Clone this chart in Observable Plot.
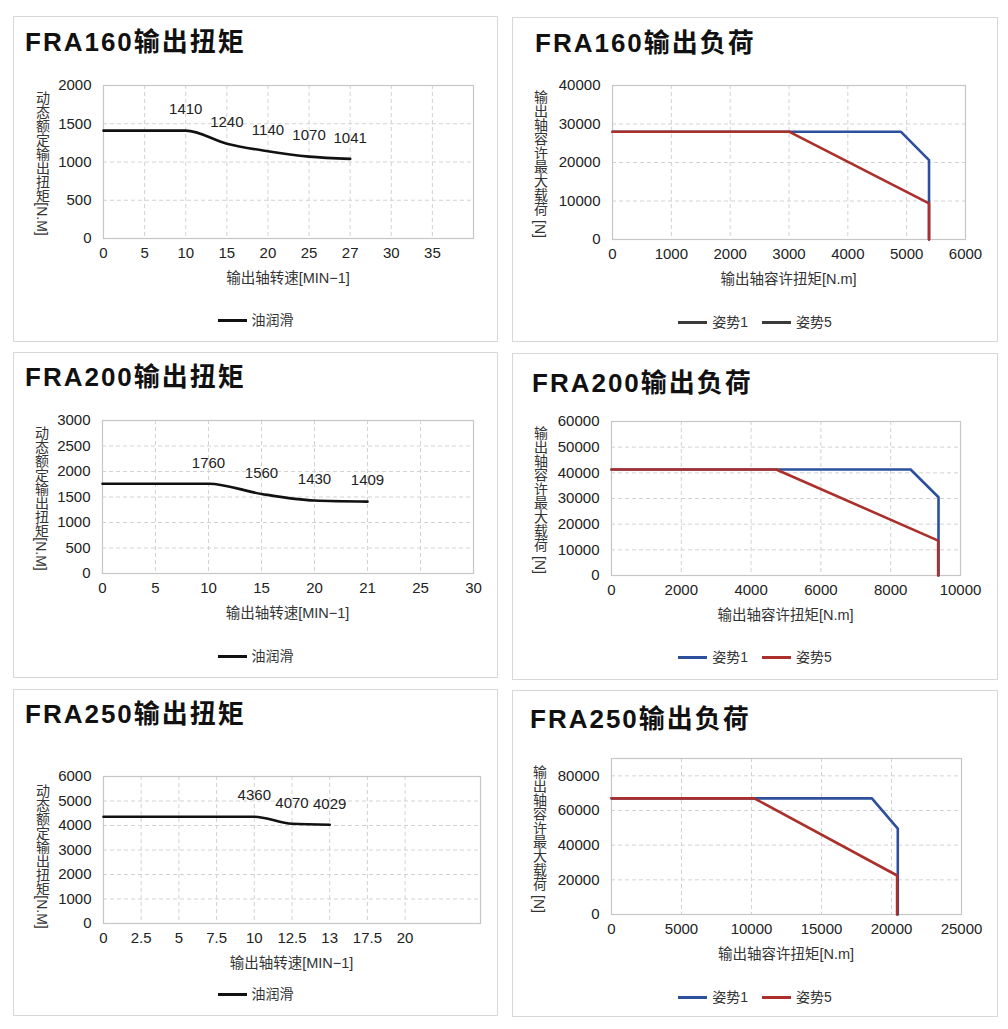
<!DOCTYPE html>
<html><head><meta charset="utf-8">
<script src="https://cdn.jsdelivr.net/npm/d3@7"></script>
<script src="https://cdn.jsdelivr.net/npm/@observablehq/plot@0.6"></script>
<style>
body{margin:0;background:#fff;}
#root{position:relative;width:1008px;height:1029px;background:#fff;font-family:"Liberation Sans","Noto Sans CJK SC",sans-serif;color:#222;overflow:hidden}
.panel{position:absolute;border:1px solid #d8d8d8;box-sizing:border-box;}
.abs{position:absolute;white-space:nowrap}
.title{font-size:26px;font-weight:bold;letter-spacing:2px;color:#111;line-height:1;transform:translateY(-50%)}
.ylab{writing-mode:vertical-rl;font-size:14px;line-height:1;color:#333;transform:translate(-50%,-50%)}
.xlab{font-size:14.5px;color:#333;line-height:1;transform:translate(-50%,-50%)}
.legend{display:flex;align-items:center;justify-content:center;font-size:14px;color:#333;line-height:1;transform:translateY(-50%)}
.sw{width:29px;height:0;margin-right:5px}
.item{display:flex;align-items:center;margin:0 7px}
svg{position:absolute;overflow:visible}
</style></head><body><div id="root"></div>
<script>
// ---------------- DATA ----------------
// Output torque charts (category axes)
const speed160 = ["0","5","10","15","20","25","27","30","35"];
const torque160 = [1410,1410,1410,1240,1140,1070,1041];
const labelIdx160 = [2,3,4,5,6];
const yTicks160 = [0,500,1000,1500,2000];

const speed200 = ["0","5","10","15","20","21","25","30"];
const torque200 = [1760,1760,1760,1560,1430,1409];
const labelIdx200 = [2,3,4,5];
const yTicks200 = [0,500,1000,1500,2000,2500,3000];

const speed250 = ["0","2.5","5","7.5","10","12.5","13","17.5","20"];
const torque250 = [4360,4360,4360,4360,4360,4070,4029];
const labelIdx250 = [4,5,6];
const yTicks250 = [0,1000,2000,3000,4000,5000,6000];

// Output load charts
const xTicksL160 = [0,1000,2000,3000,4000,5000,6000];
const yTicksL160 = [0,10000,20000,30000,40000];
const pose1_160_x = [0,4900,5380,5380];
const pose1_160_y = [28000,28000,20600,0];
const pose5_160_x = [0,3000,5380,5380];
const pose5_160_y = [28000,28000,9400,0];

const xTicksL200 = [0,2000,4000,6000,8000,10000];
const yTicksL200 = [0,10000,20000,30000,40000,50000,60000];
const pose1_200_x = [0,8570,9370,9370];
const pose1_200_y = [41300,41300,30500,0];
const pose5_200_x = [0,4720,9360,9360];
const pose5_200_y = [41300,41300,13600,0];

const xTicksL250 = [0,5000,10000,15000,20000,25000];
const yTicksL250 = [0,20000,40000,60000,80000];
const yMaxL250 = 90000;
const pose1_250_x = [0,18600,20450,20450];
const pose1_250_y = [67000,67000,49500,0];
const pose5_250_x = [0,10200,20400,20400];
const pose5_250_y = [67000,67000,22500,0];

const titles = ["FRA160输出扭矩","FRA160输出负荷","FRA200输出扭矩","FRA200输出负荷","FRA250输出扭矩","FRA250输出负荷"];
const yLabTorque = "动态额定输出扭矩[N.M]";
const yLabLoad = "输出轴容许最大载荷 [N]";
const xLabTorque = "输出轴转速[MIN−1]";
const xLabLoad = "输出轴容许扭矩[N.m]";
const legendTorque = ["油润滑"];
const legendLoad = ["姿势1","姿势5"];

// ---------------- LAYOUT ----------------
const BLUE = "#2c4f9e", RED = "#ab2f2a", BLACK = "#111";
const panels = [
  {x0:13, y0:16, x1:498, y1:342, frame:[103,85,473,238], title:[25,42], ylab:[42,163], legend:320},
  {x0:512,y0:17, x1:998, y1:342, frame:[612,85,965,239], title:[535,43], ylab:[540,164], legend:322},
  {x0:13, y0:352,x1:498, y1:678, frame:[102,420,473,573], title:[25,377], ylab:[41,498], legend:656},
  {x0:512,y0:353,x1:998, y1:680, frame:[611,421,960,575], title:[532,383], ylab:[540,500], legend:657},
  {x0:13, y0:689,x1:498, y1:1016,frame:[103,776,480,923], title:[25,714], ylab:[42,856], legend:994},
  {x0:512,y0:690,x1:998, y1:1017,frame:[611,758,961,914], title:[530,719], ylab:[539,839], legend:997},
];

const root = document.getElementById("root");
const font = '"Liberation Sans","Noto Sans CJK SC",sans-serif';
const gridStyle = {stroke:"#d2d2d2", strokeDasharray:"4,3", strokeWidth:1};

function dims(p){
  const [l,t,r,b] = p.frame;
  return {width:p.x1-p.x0, height:p.y1-p.y0, marginLeft:l-p.x0, marginTop:t-p.y0, marginRight:p.x1-r, marginBottom:p.y1-b,
    style:{fontFamily:font, fontSize:"15px", color:"#222", background:"transparent", overflow:"visible"}};
}

function torquePlot(p, cats, vals, labelIdx, yTicks, xMax){
  const data = vals.map((v,i)=>({i, v}));
  const labs = labelIdx.map(i=>({i, v: vals[i]}));
  const catIdx = cats.map((c,i)=>i);
  return Plot.plot({
    ...dims(p),
    x:{type:"linear", domain:[0,xMax], ticks:catIdx, tickFormat:i=>cats[i], tickSize:0, tickPadding:9, label:null},
    y:{domain:[0,yTicks[yTicks.length-1]], ticks:yTicks, tickSize:0, tickPadding:12, label:null, tickFormat:d=>String(d)},
    marks:[
      Plot.ruleX(catIdx.slice(1), gridStyle),
      Plot.ruleY(yTicks.slice(1), gridStyle),
      Plot.frame({stroke:"#c6c6c6", strokeWidth:1.2}),
      Plot.line(data, {x:"i", y:"v", curve:"monotone-x", stroke:BLACK, strokeWidth:2.6}),
      Plot.text(labs, {x:"i", y:"v", text:d=>String(d.v), dy:-21, fontSize:15, fill:"#222"})
    ]
  });
}

function loadPlot(p, xTicks, yTicks, yMax, s1x, s1y, s5x, s5y){
  const s1 = s1x.map((x,i)=>({x, y:s1y[i]}));
  const s5 = s5x.map((x,i)=>({x, y:s5y[i]}));
  return Plot.plot({
    ...dims(p),
    x:{domain:[0,xTicks[xTicks.length-1]], ticks:xTicks, tickSize:0, tickPadding:9, label:null, tickFormat:d=>String(d)},
    y:{domain:[0,yMax], ticks:yTicks, tickSize:0, tickPadding:12, label:null, tickFormat:d=>String(d)},
    marks:[
      Plot.ruleX(xTicks.slice(1), gridStyle),
      Plot.ruleY(yTicks.slice(1), gridStyle),
      Plot.frame({stroke:"#c6c6c6", strokeWidth:1.2}),
      Plot.line(s1, {x:"x", y:"y", stroke:BLUE, strokeWidth:2.6}),
      Plot.line(s5, {x:"x", y:"y", stroke:RED, strokeWidth:2.6})
    ]
  });
}

function addDiv(cls, text, css){
  const d = document.createElement("div");
  d.className = "abs " + cls;
  if (text != null) d.textContent = text;
  Object.assign(d.style, css);
  root.appendChild(d);
  return d;
}

function decorate(k, p, svg, ylab, xlab, legendNames, legendColors){
  addDiv("panel", null, {left:p.x0+"px", top:p.y0+"px", width:(p.x1-p.x0)+"px", height:(p.y1-p.y0)+"px"});
  svg.style.left = p.x0+"px"; svg.style.top = p.y0+"px";
  root.appendChild(svg);
  addDiv("title", titles[k], {left:p.title[0]+"px", top:p.title[1]+"px"});
  addDiv("ylab", ylab, {left:p.ylab[0]+"px", top:p.ylab[1]+"px"});
  const [l,t,r,b] = p.frame;
  addDiv("xlab", xlab, {left:((l+r)/2)+"px", top:(b+40)+"px"});
  const lg = addDiv("legend", null, {left:p.x0+"px", width:(p.x1-p.x0)+"px", top:p.legend+"px"});
  legendNames.forEach((n,i)=>{
    const it = document.createElement("div"); it.className="item";
    const sw = document.createElement("div"); sw.className="sw"; sw.style.borderTop = "3px solid "+legendColors[i];
    const tx = document.createElement("span"); tx.textContent = n;
    it.appendChild(sw); it.appendChild(tx); lg.appendChild(it);
  });
}

decorate(0, panels[0], torquePlot(panels[0], speed160, torque160, labelIdx160, yTicks160, 9), yLabTorque, xLabTorque, legendTorque, [BLACK]);
decorate(1, panels[1], loadPlot(panels[1], xTicksL160, yTicksL160, 40000, pose1_160_x, pose1_160_y, pose5_160_x, pose5_160_y), yLabLoad, xLabLoad, legendLoad, ["#3a3a3a","#3a3a3a"]);
decorate(2, panels[2], torquePlot(panels[2], speed200, torque200, labelIdx200, yTicks200, 7), yLabTorque, xLabTorque, legendTorque, [BLACK]);
decorate(3, panels[3], loadPlot(panels[3], xTicksL200, yTicksL200, 60000, pose1_200_x, pose1_200_y, pose5_200_x, pose5_200_y), yLabLoad, xLabLoad, legendLoad, [BLUE, RED]);
decorate(4, panels[4], torquePlot(panels[4], speed250, torque250, labelIdx250, yTicks250, 10), yLabTorque, xLabTorque, legendTorque, [BLACK]);
decorate(5, panels[5], loadPlot(panels[5], xTicksL250, yTicksL250, yMaxL250, pose1_250_x, pose1_250_y, pose5_250_x, pose5_250_y), yLabLoad, xLabLoad, legendLoad, [BLUE, RED]);
</script></body></html>
